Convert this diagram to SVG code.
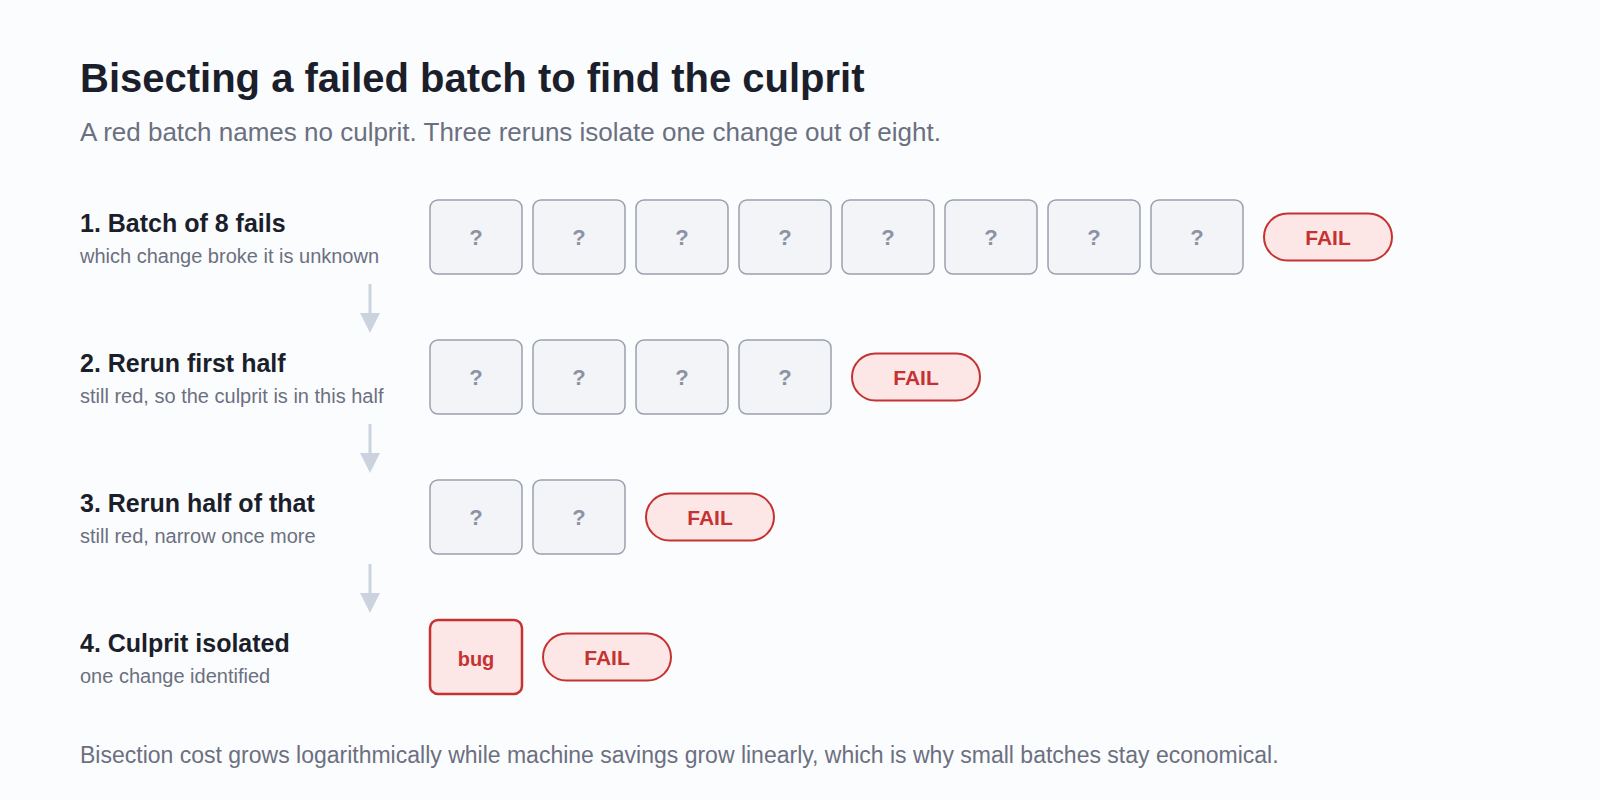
<svg xmlns="http://www.w3.org/2000/svg" width="1600" height="800" viewBox="0 0 1600 800">
<style>
text{font-family:"Liberation Sans",Arial,Helvetica,sans-serif}
.title{font-size:40px;font-weight:bold;fill:#1b1f2b}
.sub{font-size:26px;fill:#6b7080}
.lbl{font-size:25px;font-weight:bold;fill:#1b1f2b}
.desc{font-size:20px;fill:#6b7080}
.foot{font-size:23px;fill:#6b7080}
.box{fill:#f2f4f7;stroke:#9aa0ae;stroke-width:1.5}
.q{font-size:22px;font-weight:bold;fill:#8b92a3;text-anchor:middle}
.pill{fill:#fde6e6;stroke:#c53232;stroke-width:2}
.fail{font-size:21px;font-weight:bold;fill:#c53232;text-anchor:middle}
.bug{fill:#fde6e6;stroke:#c53232;stroke-width:2.5}
.bugt{font-size:20px;font-weight:bold;fill:#c53232;text-anchor:middle}
.arr{stroke:#cbd3df;stroke-width:3;fill:none}
.head{fill:#cbd3df}
</style>
<rect width="1600" height="800" fill="#fbfcfe"/>
<text class="title" x="80" y="92">Bisecting a failed batch to find the culprit</text>
<text class="sub" x="80" y="141">A red batch names no culprit. Three reruns isolate one change out of eight.</text>

<g id="connectors">
<line class="arr" x1="370" y1="284" x2="370" y2="314"/>
<polygon class="head" points="360,313 380,313 370,333"/>
<line class="arr" x1="370" y1="424" x2="370" y2="454"/>
<polygon class="head" points="360,453 380,453 370,473"/>
<line class="arr" x1="370" y1="564" x2="370" y2="594"/>
<polygon class="head" points="360,593 380,593 370,613"/>
</g>

<g id="step1">
<text class="lbl" x="80" y="232">1. Batch of 8 fails</text>
<text class="desc" x="80" y="263">which change broke it is unknown</text>
<rect class="box" x="430" y="200" width="92" height="74" rx="8"/><text class="q" x="476" y="245">?</text>
<rect class="box" x="533" y="200" width="92" height="74" rx="8"/><text class="q" x="579" y="245">?</text>
<rect class="box" x="636" y="200" width="92" height="74" rx="8"/><text class="q" x="682" y="245">?</text>
<rect class="box" x="739" y="200" width="92" height="74" rx="8"/><text class="q" x="785" y="245">?</text>
<rect class="box" x="842" y="200" width="92" height="74" rx="8"/><text class="q" x="888" y="245">?</text>
<rect class="box" x="945" y="200" width="92" height="74" rx="8"/><text class="q" x="991" y="245">?</text>
<rect class="box" x="1048" y="200" width="92" height="74" rx="8"/><text class="q" x="1094" y="245">?</text>
<rect class="box" x="1151" y="200" width="92" height="74" rx="8"/><text class="q" x="1197" y="245">?</text>
<rect class="pill" x="1264" y="213.5" width="128" height="47" rx="23.5"/><text class="fail" x="1328" y="244.5">FAIL</text>
</g>

<g id="step2">
<text class="lbl" x="80" y="372">2. Rerun first half</text>
<text class="desc" x="80" y="403">still red, so the culprit is in this half</text>
<rect class="box" x="430" y="340" width="92" height="74" rx="8"/><text class="q" x="476" y="385">?</text>
<rect class="box" x="533" y="340" width="92" height="74" rx="8"/><text class="q" x="579" y="385">?</text>
<rect class="box" x="636" y="340" width="92" height="74" rx="8"/><text class="q" x="682" y="385">?</text>
<rect class="box" x="739" y="340" width="92" height="74" rx="8"/><text class="q" x="785" y="385">?</text>
<rect class="pill" x="852" y="353.5" width="128" height="47" rx="23.5"/><text class="fail" x="916" y="384.5">FAIL</text>
</g>

<g id="step3">
<text class="lbl" x="80" y="512">3. Rerun half of that</text>
<text class="desc" x="80" y="543">still red, narrow once more</text>
<rect class="box" x="430" y="480" width="92" height="74" rx="8"/><text class="q" x="476" y="525">?</text>
<rect class="box" x="533" y="480" width="92" height="74" rx="8"/><text class="q" x="579" y="525">?</text>
<rect class="pill" x="646" y="493.5" width="128" height="47" rx="23.5"/><text class="fail" x="710" y="524.5">FAIL</text>
</g>

<g id="step4">
<text class="lbl" x="80" y="652">4. Culprit isolated</text>
<text class="desc" x="80" y="683">one change identified</text>
<rect class="bug" x="430" y="620" width="92" height="74" rx="8"/><text class="bugt" x="476" y="666">bug</text>
<rect class="pill" x="543" y="633.5" width="128" height="47" rx="23.5"/><text class="fail" x="607" y="664.5">FAIL</text>
</g>

<text class="foot" x="80" y="763">Bisection cost grows logarithmically while machine savings grow linearly, which is why small batches stay economical.</text>
</svg>
